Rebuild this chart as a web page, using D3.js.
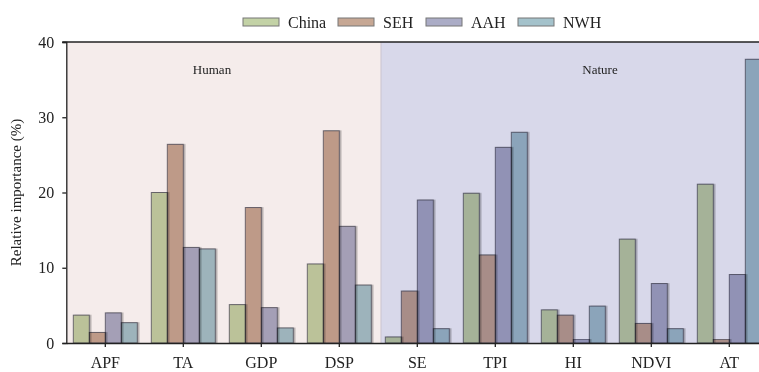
<!DOCTYPE html>
<html>
<head>
<meta charset="utf-8">
<script src="https://cdn.jsdelivr.net/npm/d3@7"></script>
<style>
  html, body { margin: 0; padding: 0; background: #fff; }
  svg { display: block; font-family: "Liberation Serif", "Times New Roman", serif; }
  .bar { mix-blend-mode: multiply; }
</style>
</head>
<body>
<svg id="chart" width="759" height="372"></svg>
<script>
// Factor categories along the x axis
const categories = ["APF", "TA", "GDP", "DSP", "SE", "TPI", "HI", "NDVI", "AT"];
// Regions
const seriesNames = ["China", "SEH", "AAH", "NWH"];
// Relative importance (%) per region, one value per category
const china = [3.7, 20.0, 5.1, 10.5, 0.8, 19.9, 4.4, 13.8, 21.1];
const seh   = [1.4, 26.4, 18.0, 28.2, 6.9, 11.7, 3.7, 2.6, 0.5];
const aah   = [4.0, 12.7, 4.7, 15.5, 19.0, 26.0, 0.5, 7.9, 9.1];
const nwh   = [2.7, 12.5, 2.0, 7.7, 1.9, 28.0, 4.9, 1.9, 37.7];
const yTicks = [0, 10, 20, 30, 40];
// Factor groups shaded behind the bars
const groups = [
  { name: "Human",  from: "APF", to: "DSP" },
  { name: "Nature", from: "SE",  to: "AT" }
];

const seriesValues = [china, seh, aah, nwh];
const colors = ["#c3d2a6", "#c6a794", "#abacc6", "#a4c2cb"];

const svg = d3.select("#chart");
const margin = { left: 66.3, top: 42, bottom: 343 };
const step = 78;

const x0 = d3.scaleBand()
  .domain(categories)
  .range([margin.left, margin.left + step * categories.length])
  .padding(0);
const x1 = d3.scaleBand()
  .domain(seriesNames)
  .range([7, step - 7])
  .padding(0);
const y = d3.scaleLinear().domain([0, 40]).range([margin.bottom, margin.top]);
const color = d3.scaleOrdinal().domain(seriesNames).range(colors);

const defs = svg.append("defs");
const shadow = defs.append("filter").attr("id", "shade")
  .attr("x", "-20%").attr("y", "-5%").attr("width", "160%").attr("height", "110%");
shadow.append("feDropShadow")
  .attr("dx", 1.6).attr("dy", 0).attr("stdDeviation", 0.6)
  .attr("flood-color", "#000").attr("flood-opacity", 0.28);

// Group backgrounds
const bgFill = { Human: "#f5eceb", Nature: "#d8d8ea" };
const splitX = x0("SE") + 2.7;
const bgBounds = {
  Human: [margin.left, splitX],
  Nature: [splitX, x0("AT") + step]
};
svg.append("g").selectAll("rect")
  .data(groups)
  .join("rect")
  .attr("x", d => bgBounds[d.name][0])
  .attr("y", margin.top)
  .attr("width", d => bgBounds[d.name][1] - bgBounds[d.name][0])
  .attr("height", margin.bottom - margin.top)
  .attr("fill", d => bgFill[d.name]);
svg.append("line")
  .attr("x1", splitX).attr("x2", splitX)
  .attr("y1", margin.top).attr("y2", margin.bottom)
  .attr("stroke", "#c9c3cf").attr("stroke-width", 1);

// Group titles
const titleX = { Human: 212, Nature: 600 };
svg.append("g").selectAll("text")
  .data(groups)
  .join("text")
  .attr("x", d => titleX[d.name])
  .attr("y", 74)
  .attr("text-anchor", "middle")
  .attr("font-size", 13)
  .attr("fill", "#222")
  .text(d => d.name);

// Bars
const barData = [];
categories.forEach((c, i) => {
  seriesNames.forEach((s, j) => barData.push({ cat: c, series: s, value: seriesValues[j][i] }));
});
svg.append("g").selectAll("rect")
  .data(barData)
  .join("rect")
  .attr("class", "bar")
  .attr("x", d => x0(d.cat) + x1(d.series))
  .attr("y", d => y(d.value))
  .attr("width", x1.bandwidth())
  .attr("height", d => y(0) - y(d.value))
  .attr("fill", d => color(d.series))
  .attr("stroke", "#4a4a58")
  .attr("stroke-opacity", 0.75)
  .attr("stroke-width", 1)
  .attr("filter", "url(#shade)");

// Axes
const yAxis = d3.axisLeft(y).tickValues(yTicks).tickSize(4).tickPadding(8);
const gy = svg.append("g").attr("transform", `translate(${margin.left},0)`).call(yAxis);
gy.selectAll("text").attr("font-size", 16).attr("fill", "#222")
  .attr("font-family", "'Liberation Serif', 'Times New Roman', serif");
gy.selectAll("line, path").attr("stroke", "#222").attr("stroke-width", 1.3);

const xAxis = d3.axisBottom(x0).tickSize(4).tickPadding(10).tickSizeOuter(0);
const gx = svg.append("g").attr("transform", `translate(0,${margin.bottom})`).call(xAxis);
gx.selectAll("text").attr("font-size", 16).attr("fill", "#222")
  .attr("font-family", "'Liberation Serif', 'Times New Roman', serif");
gx.selectAll("line, path").attr("stroke", "#222").attr("stroke-width", 1.3);

// Top frame line
svg.append("line")
  .attr("x1", margin.left - 4).attr("x2", 759)
  .attr("y1", margin.top).attr("y2", margin.top)
  .attr("stroke", "#222").attr("stroke-width", 1.3);

// Y axis title
svg.append("text")
  .attr("transform", `translate(21,${(margin.top + margin.bottom) / 2}) rotate(-90)`)
  .attr("text-anchor", "middle")
  .attr("font-size", 15)
  .attr("fill", "#222")
  .text("Relative importance (%)");

// Legend
const legendX = [243, 338, 426, 518];
const legend = svg.append("g").selectAll("g")
  .data(seriesNames)
  .join("g")
  .attr("transform", (d, i) => `translate(${legendX[i]},18)`);
legend.append("rect")
  .attr("width", 36).attr("height", 8)
  .attr("fill", d => color(d))
  .attr("stroke", "#777").attr("stroke-width", 1);
legend.append("text")
  .attr("x", 45).attr("y", 9.5)
  .attr("font-size", 16)
  .attr("fill", "#222")
  .text(d => d);
</script>
</body>
</html>
